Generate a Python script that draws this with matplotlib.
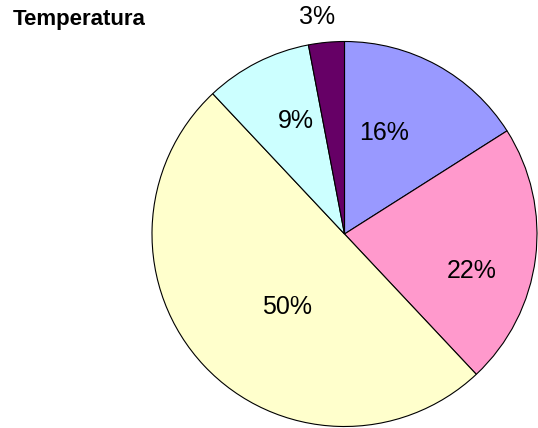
import matplotlib
matplotlib.use("Agg")
import matplotlib.pyplot as plt

title = "Temperatura"
categories = ["A", "B", "C", "D", "E"]
values = [16, 22, 50, 9, 3]
colors = ["#9999FF", "#FF99CC", "#FFFFCC", "#CCFFFF", "#660066"]

# label positions (data units, pie radius = 1)
label_xy = [(0.207, 0.523), (0.661, -0.192), (-0.300, -0.378), (-0.252, 0.587), (-0.143, 1.125)]

plt.rcParams['font.family'] = ['Liberation Sans', 'DejaVu Sans']

fig = plt.figure(figsize=(5.38, 4.28), dpi=100)
cx, cy, r = 344.5 / 538, (428 - 234) / 428, 192.5
w, h = 2 * r / 538, 2 * r / 428
ax = fig.add_axes([cx - w / 2, cy - h / 2, w, h])

wedges, texts, autotexts = ax.pie(
    values, colors=colors, startangle=90, counterclock=False,
    autopct='%.0f%%', radius=1,
    wedgeprops=dict(edgecolor='black', linewidth=0.8),
    textprops=dict(fontsize=18, color='black'),
)
for t, (x, y) in zip(autotexts, label_xy):
    t.set_position((x, y))
    t.set_ha('center')
    t.set_va('center')
    t.set_clip_on(False)

ax.set_xlim(-1, 1)
ax.set_ylim(-1, 1)
ax.set_aspect('equal')
ax.axis('off')

fig.text(13 / 538, 1 - 25 / 428, title, fontsize=16, fontweight='bold', ha='left', va='baseline')

fig.savefig("out.png", dpi=100)
